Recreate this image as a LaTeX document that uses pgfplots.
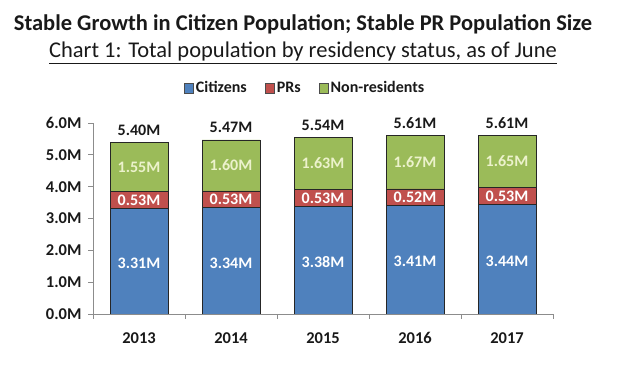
\documentclass[border=0pt]{standalone}
\usepackage{fontspec}
\setmainfont{Carlito}
\usepackage{pgfplots}
\pgfplotsset{compat=1.18}
\usepackage{pgfplotstable}
\definecolor{cblue}{HTML}{4F81BD}
\definecolor{cred}{HTML}{C0504D}
\definecolor{cgreen}{HTML}{9BBB59}
\definecolor{lgreen}{RGB}{236,242,204}
\definecolor{txt}{RGB}{25,25,25}

\pgfplotstableread{
x cit pr non
0 3.31 0.53 1.55
1 3.34 0.53 1.60
2 3.38 0.53 1.63
3 3.41 0.52 1.67
4 3.44 0.53 1.65
}\popdata

\pgfplotstableread{
x ycit labcit ypr labpr ynon labnon ytot labtot
0 1.600 3.31M 3.575 0.53M 4.615 1.55M 5.40 5.40M
1 1.600 3.34M 3.605 0.53M 4.670 1.60M 5.47 5.47M
2 1.620 3.38M 3.645 0.53M 4.725 1.63M 5.54 5.54M
3 1.640 3.41M 3.670 0.52M 4.765 1.67M 5.61 5.61M
4 1.650 3.44M 3.705 0.53M 4.795 1.65M 5.61 5.61M
}\labdata

\begin{document}
\begin{tikzpicture}[x=1pt,y=1pt]
\useasboundingbox (0,0) rectangle (640,372);
\node[anchor=base, font=\bfseries\fontsize{22.5}{26}\selectfont, text=txt] at (303,341) {Stable Growth in Citizen Population; Stable PR Population Size};
\node[anchor=base, font=\fontsize{22.5}{26}\selectfont, text=txt] at (303,314) {\underline{Chart 1: Total population by residency status, as of June}};
\begin{axis}[
  at={(93pt,58pt)}, anchor=south west,
  scale only axis, width=460pt, height=191pt,
  ybar stacked, bar width=58pt,
  xmin=-0.5, xmax=4.5, ymin=0, ymax=6,
  axis x line*=bottom, axis y line*=left,
  axis line style={draw=black!45, line width=0.8pt},
  every tick/.style={draw=black!45, line width=0.8pt},
  tick align=outside, major tick length=5pt,
  ytick={0,1,...,6},
  yticklabel={\pgfmathprintnumber[fixed,fixed zerofill,precision=1]{\tick}M},
  yticklabel style={xshift=-3pt},
  xtick={-0.5,0.5,1.5,2.5,3.5,4.5}, xticklabels={},
  extra x ticks={0,1,2,3,4},
  extra x tick labels={2013,2014,2015,2016,2017},
  extra x tick style={major tick length=0pt, xticklabel style={yshift=-15pt, text height=11pt, text depth=0pt}},
  tick label style={font=\bfseries\fontsize{16.5}{19}\selectfont, text=txt},
  /pgf/number format/assume math mode=true,
  legend style={at={(rel axis cs:0.461,1)}, anchor=center, yshift=35pt, draw=none,
    font=\bfseries\fontsize{16}{19}\selectfont, text=txt,
    legend columns=-1, /tikz/every even column/.append style={column sep=16pt}},
  legend image code/.code={\draw[#1, draw=black!70, line width=0.5pt] (0pt,-4.8pt) rectangle (9.5pt,4.8pt);},
]
\addplot[fill=cblue, draw=black!85, line width=0.6pt] table[x=x,y=cit]{\popdata};
\addplot[fill=cred, draw=black!85, line width=0.6pt] table[x=x,y=pr]{\popdata};
\addplot[fill=cgreen, draw=black!85, line width=0.6pt] table[x=x,y=non]{\popdata};
\legend{Citizens,PRs,Non-residents}
\end{axis}
\begin{axis}[
  at={(93pt,58pt)}, anchor=south west,
  scale only axis, width=460pt, height=191pt,
  xmin=-0.5, xmax=4.5, ymin=0, ymax=6, hide axis,
  nodes near coords, point meta=explicit symbolic,
  every node near coord/.append style={anchor=center, font=\bfseries\fontsize{16}{18}\selectfont},
]
\addplot[only marks, mark=none, every node near coord/.append style={text=white}] table[x=x,y=ycit,meta=labcit]{\labdata};
\addplot[only marks, mark=none, every node near coord/.append style={text=white}] table[x=x,y=ypr,meta=labpr]{\labdata};
\addplot[only marks, mark=none, every node near coord/.append style={text=lgreen}] table[x=x,y=ynon,meta=labnon]{\labdata};
\addplot[only marks, mark=none, every node near coord/.append style={text=txt, anchor=base, yshift=7pt}] table[x=x,y=ytot,meta=labtot]{\labdata};
\end{axis}
\end{tikzpicture}
\end{document}
